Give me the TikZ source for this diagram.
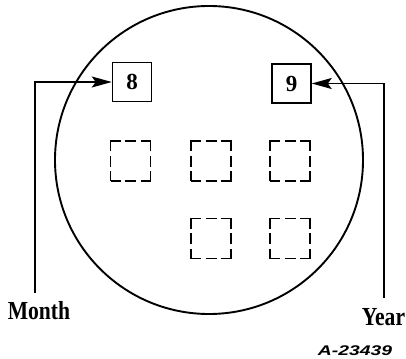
\documentclass[tikz,border=0pt]{standalone}
\usepackage{fontspec}
\setmainfont{Liberation Serif}
\newfontfamily\codefont{Liberation Sans}
\usetikzlibrary{arrows.meta}
\begin{document}
\begin{tikzpicture}[x=1pt,y=-1pt,
  solidbox/.style={draw,line width=1.5pt,minimum size=39pt,inner sep=0pt,
    font=\fontsize{23}{23}\selectfont\bfseries},
  dashbox/.style={draw,line width=1.5pt,minimum size=40pt,inner sep=0pt,
    dash pattern=on 20pt off 4.5pt on 11pt off 4.5pt,dash phase=10pt},
  conn/.style={line width=1.9pt,-{Stealth[length=20pt,width=11pt,inset=4pt]}},
  lbl/.style={font=\fontsize{26}{26}\selectfont\bfseries,anchor=base,inner sep=0pt}]
\useasboundingbox (0,0) rectangle (406,358);
\node[draw,circle,line width=1.9pt,minimum size=308pt,inner sep=0pt] (disc) at (209,160) {};
\node[solidbox] (m) at (132,82) {8};
\node[solidbox] (y) at (291.5,83.5) {9};
\node[dashbox] (d1) at (130.5,161) {};
\node[dashbox] (d2) at (211,161) {};
\node[dashbox] (d3) at (290,161) {};
\node[dashbox] (d4) at (211,238.5) {};
\node[dashbox] (d5) at (290,238.5) {};
\coordinate (mbot) at (35,293);
\coordinate (ybot) at (384,298);
\draw[conn] (mbot) |- (m.west);
\draw[conn] (ybot) |- (y.east);
\node[lbl] (month) at (39,319) {\scalebox{0.83}[1]{Month}};
\node[lbl] (year) at (383.5,325) {\scalebox{0.83}[1]{Year}};
\node[font=\codefont\fontsize{14}{14}\selectfont\bfseries\itshape,anchor=base,inner sep=0pt] (code) at (355,355) {\scalebox{1.38}[1]{A-23439}};
\end{tikzpicture}
\end{document}
